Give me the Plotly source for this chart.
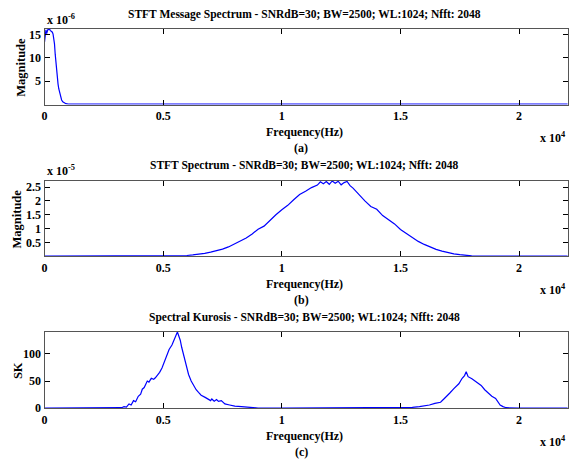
import plotly.graph_objects as go

# (a) message spectrum, magnitude in units of 1e-6
msg_freq = [0, 30, 60, 90, 120, 150, 180, 210, 240, 270, 300, 330, 360, 390, 420, 450,
            480, 510, 540, 570, 600, 640, 680, 720, 770, 830, 900, 1000, 1200, 2000,
            4000, 8000, 12000, 16000, 20000, 22050]
msg_mag = [13.4, 15.6, 16.0, 15.2, 15.9, 16.2, 16.1, 16.2, 15.9, 15.8, 15.7, 15.5, 15.1,
           14.2, 13.0, 10.8, 8.7, 7.0, 5.6, 4.4, 3.4, 2.4, 1.6, 1.0, 0.6, 0.35, 0.2, 0.12,
           0.1, 0.09, 0.1, 0.08, 0.1, 0.09, 0.1, 0.09]

# (b) received spectrum, magnitude in units of 1e-5
rx_freq = [0, 5000, 5500, 5750, 6000, 6250, 6500, 6750, 7000, 7250, 7500, 7750, 8000,
           8250, 8500, 8750, 9000, 9250, 9500, 9750, 10000, 10250, 10500, 10750, 11000,
           11250, 11500, 11625, 11750, 11875, 12000, 12125, 12250, 12375, 12500, 12625,
           12750, 12875, 13000, 13250, 13500, 13750, 14000, 14250, 14500, 14750, 15000,
           15250, 15500, 15750, 16000, 16250, 16500, 16750, 17000, 17250, 17500, 17750,
           18000, 18500, 20000, 22050]
rx_mag = [0.005, 0.01, 0.02, 0.02, 0.03, 0.05, 0.07, 0.11, 0.15, 0.20, 0.26, 0.34, 0.44,
          0.56, 0.66, 0.81, 0.98, 1.09, 1.30, 1.50, 1.68, 1.84, 2.04, 2.23, 2.35, 2.48,
          2.57, 2.69, 2.62, 2.70, 2.60, 2.72, 2.64, 2.71, 2.58, 2.66, 2.70, 2.55, 2.46,
          2.22, 2.00, 1.80, 1.70, 1.47, 1.32, 1.17, 0.97, 0.82, 0.69, 0.54, 0.43, 0.34,
          0.25, 0.19, 0.13, 0.09, 0.06, 0.03, 0.02, 0.01, 0.005, 0.005]

# (c) spectral kurtosis
sk_freq = [0, 1000, 2000, 3000, 3250, 3350, 3450, 3560, 3650, 3750, 3840, 3950, 4050,
           4120, 4200, 4330, 4400, 4500, 4600, 4670, 4750, 4850, 4950, 5050, 5160, 5250,
           5370, 5450, 5510, 5560, 5600, 5650, 5720, 5780, 5860, 5950, 6070, 6180, 6280,
           6390, 6490, 6600, 6770, 6900, 7000, 7050, 7150, 7250, 7330, 7450, 7600, 7800,
           8020, 8300, 8500, 8720, 9000, 10000, 12000, 14000, 15000, 15500, 15800, 16000,
           16220, 16450, 16690, 16850, 17000, 17080, 17250, 17460, 17600, 17700, 17770,
           17850, 18010, 18200, 18400, 18550, 18700, 18850, 19010, 19100, 19200, 19320,
           19450, 20000, 22050]
sk_val = [0.5, 0.4, 0.5, 0.5, 1, 3, 2, 8, 6, 14, 12, 22, 26, 35, 38, 50, 48, 55, 53, 56,
          60, 66, 74, 86, 98, 108, 116, 126, 131, 136, 140, 134, 125, 112, 98, 80, 62, 50,
          41, 34, 29, 24, 20, 17, 14, 17, 13, 16, 12.6, 14, 8, 6, 4, 3, 2, 2, 0.5, 0.4,
          0.4, 0.5, 1, 1.5, 3, 4, 6, 9, 11, 18, 24, 28, 36, 45, 55, 60, 67, 58, 54, 48, 42,
          34, 27, 22, 18, 12, 6, 3, 1, 0.4, 0.4]

freq_ticks = [0, 5000, 10000, 15000, 20000]
freq_tick_labels = ["0", "0.5", "1", "1.5", "2"]

titles = [
    "STFT Message Spectrum - SNRdB=30; BW=2500; WL:1024; Nfft: 2048",
    "STFT Spectrum - SNRdB=30; BW=2500; WL:1024; Nfft: 2048",
    "Spectral Kurosis - SNRdB=30; BW=2500; WL:1024; Nfft: 2048",
]
ylabels = ["Magnitude", "Magnitude", "SK"]
exponents = ["x 10<sup>-6</sup>", "x 10<sup>-5</sup>", None]
captions = ["(a)", "(b)", "(c)"]
y_ranges = [[0, 16.2], [0, 2.73], [0, 140]]
y_ticks = [[5, 10, 15], [0.5, 1, 1.5, 2, 2.5], [0, 50, 100]]
y_tick_labels = [["5", "10", "15"], ["0.5", "1", "1.5", "2", "2.5"], ["0", "50", "100"]]

# page body keeps an 8px margin, so the figure is 8px smaller and positions are shifted
OFF = 8
W, H = 580 - OFF, 470 - OFF
FONT = "Liberation Serif"
boxes = [(28.3, 105.3), (182.7, 259.7), (336.7, 414.3)]  # pixel top/bottom of each axes
ylabel_x = [18, 14, 15]
left, right = 41.7, 567.7


def px(x):
    return (x - OFF) / W


def py(y):
    return 1 - (y - OFF) / H


fig = go.Figure()
series = [(msg_freq, msg_mag), (rx_freq, rx_mag), (sk_freq, sk_val)]
for i, (fx, fy) in enumerate(series):
    n = "" if i == 0 else str(i + 1)
    fig.add_trace(go.Scatter(x=fx, y=fy, mode="lines", xaxis="x" + n, yaxis="y" + n,
                             line=dict(color="#0000ff", width=1.2), hoverinfo="skip"))

layout = dict(
    width=W, height=H,
    margin=dict(l=0, r=0, t=0, b=0),
    paper_bgcolor="white", plot_bgcolor="white",
    showlegend=False,
    font=dict(family=FONT, color="black"),
)
annotations = []
axis_common = dict(showline=True, linecolor="#555555", linewidth=1, mirror="ticks",
                   ticks="inside", ticklen=5, tickcolor="black", showgrid=False,
                   zeroline=False, fixedrange=True,
                   tickfont=dict(family=FONT, size=12, color="black", weight="bold"))

for i in range(3):
    n = "" if i == 0 else str(i + 1)
    top, bot = boxes[i]
    layout["xaxis" + n] = dict(axis_common, domain=[px(left), px(right)], range=[0, 22050],
                               tickvals=freq_ticks, ticktext=freq_tick_labels,
                               anchor="y" + n)
    layout["yaxis" + n] = dict(axis_common, domain=[py(bot), py(top)], range=y_ranges[i],
                               tickvals=y_ticks[i], ticktext=y_tick_labels[i],
                               anchor="x" + n)

    annotations.append(dict(text="<b>%s</b>" % titles[i], x=px(303), y=py(top - 15),
                            font=dict(size=11.5)))
    annotations.append(dict(text="<b>Frequency(Hz)</b>", x=px(303), y=py(bot + 28),
                            font=dict(size=12)))
    annotations.append(dict(text="<b>%s</b>" % captions[i], x=px(300), y=py(bot + 44),
                            font=dict(size=12)))
    annotations.append(dict(text="<b>x 10<sup>4</sup></b>", x=px(568), y=py(bot + 33.4),
                            xanchor="right", font=dict(size=12)))
    annotations.append(dict(text="<b>%s</b>" % ylabels[i], x=px(ylabel_x[i]),
                            y=py((top + bot) / 2), textangle=-90, font=dict(size=12.5)))
    if exponents[i]:
        annotations.append(dict(text="<b>%s</b>" % exponents[i], x=px(left), y=py(top - 10),
                                xanchor="left", font=dict(size=12)))

for a in annotations:
    a.update(xref="paper", yref="paper", showarrow=False)
    a.setdefault("xanchor", "center")
    a.setdefault("yanchor", "middle")

layout["annotations"] = annotations
fig.update_layout(layout)

fig.write_html("out.html")
